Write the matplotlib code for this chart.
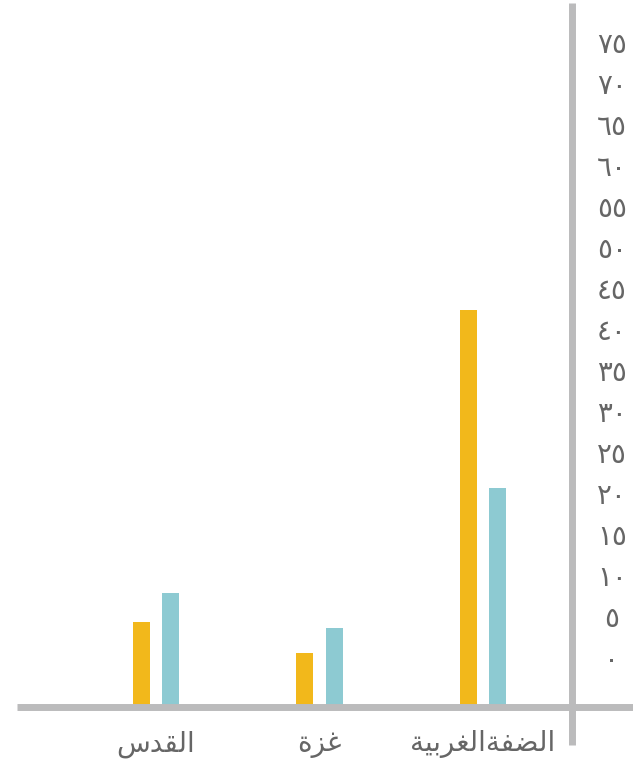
import matplotlib
matplotlib.use('Agg')
import matplotlib.pyplot as plt
import matplotlib.transforms as mtransforms
import numpy as np

# categories, right to left as in the reference
categories = ['الضفة الغربية', 'غزة', 'القدس']
series_a = [48.3, 6.5, 10.3]   # orange
series_b = [26.6, 9.6, 13.9]   # teal
y_ticks = list(range(0, 80, 5))

ORANGE = '#F2B81B'
TEAL = '#8DCAD2'
GREY = '#BBBBBC'
TEXT = '#666666'

# tiny arabic shaper: (isolated, final, initial, medial); None = no such form
FORMS = {
    'ا': ('\uFE8D', '\uFE8E', None, None),
    'ل': ('\uFEDD', '\uFEDE', '\uFEDF', '\uFEE0'),
    'ق': ('\uFED5', '\uFED6', '\uFED7', '\uFED8'),
    'د': ('\uFEA9', '\uFEAA', None, None),
    'س': ('\uFEB1', '\uFEB2', '\uFEB3', '\uFEB4'),
    'غ': ('\uFECD', '\uFECE', '\uFECF', '\uFED0'),
    'ز': ('\uFEAF', '\uFEB0', None, None),
    'ة': ('\uFE93', '\uFE94', None, None),
    'ض': ('\uFEBD', '\uFEBE', '\uFEBF', '\uFEC0'),
    'ف': ('\uFED1', '\uFED2', '\uFED3', '\uFED4'),
    'ر': ('\uFEAD', '\uFEAE', None, None),
    'ب': ('\uFE8F', '\uFE90', '\uFE91', '\uFE92'),
    'ي': ('\uFEF1', '\uFEF2', '\uFEF3', '\uFEF4'),
}

def shape(word):
    out = []
    for i, ch in enumerate(word):
        if ch not in FORMS:
            out.append(ch)
            continue
        prev = word[i - 1] if i > 0 else None
        nxt = word[i + 1] if i + 1 < len(word) else None
        join_prev = prev in FORMS and FORMS[prev][2] is not None
        join_next = nxt in FORMS and FORMS[ch][2] is not None
        iso, fin, ini, med = FORMS[ch]
        if join_prev and join_next:
            out.append(med)
        elif join_prev:
            out.append(fin)
        elif join_next:
            out.append(ini)
        else:
            out.append(iso)
    return ''.join(out)

def rtl(text):
    words = [shape(w)[::-1] for w in text.split(' ')]
    return ''.join(reversed(words))

def arabic_digits(n):
    return str(n).translate(str.maketrans('0123456789', '٠١٢٣٤٥٦٧٨٩'))

W, H = 633, 761
fig = plt.figure(figsize=(W / 100, H / 100), dpi=100)
ax = fig.add_axes([17 / W, 54.5 / H, 555 / W, 703.5 / H])

x = np.arange(len(categories))
bw = 0.104
ax.bar(x + 0.089, series_a, width=bw, color=ORANGE, zorder=2)
ax.bar(x - 0.089, series_b, width=bw, color=TEAL, zorder=2)

ax.set_xlim(2.85, -0.544)
ax.set_ylim(0, 703.5 / 8.2)
for s in ax.spines.values():
    s.set_visible(False)
ax.set_xticks([])
ax.set_yticks([])

# axis lines reaching past the plot area
ax.plot([0, 1.11], [0, 0], transform=ax.transAxes, color=GREY, lw=5, clip_on=False, zorder=3, solid_capstyle='butt')
ax.plot([1, 1], [-0.0547, 1], transform=ax.transAxes, color=GREY, lw=5, clip_on=False, zorder=3, solid_capstyle='butt')

# y labels sit one step above their value, as in the reference
ytrans = mtransforms.offset_copy(ax.get_yaxis_transform(), fig=fig, y=33.5, units='points')
for v in y_ticks:
    ax.text(1.072, v, arabic_digits(v), transform=ytrans, ha='center', va='center',
            fontsize=20, color=TEXT, family='DejaVu Sans')

xtrans = mtransforms.offset_copy(ax.get_xaxis_transform(), fig=fig, y=-27, units='points')
for xi, c in zip(x, categories):
    ax.text(xi, 0, rtl(c), transform=xtrans, ha='center', va='center',
            fontsize=20, color=TEXT, family='DejaVu Sans')

fig.savefig('out.png', dpi=100)
